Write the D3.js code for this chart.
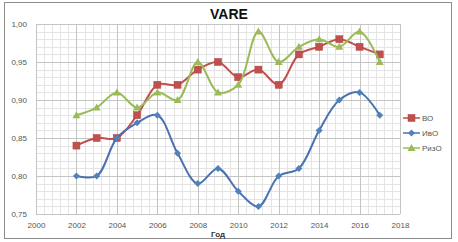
<!DOCTYPE html>
<html>
<head>
<meta charset="UTF-8">
<script src="https://d3js.org/d3.v7.min.js"></script>
<style>
  body { margin: 0; background: #fff; }
  text { font-family: "Liberation Sans", Arial, sans-serif; }
</style>
</head>
<body>
<div id="chart"></div>
<script>
const years = [2002, 2003, 2004, 2005, 2006, 2007, 2008, 2009, 2010, 2011, 2012, 2013, 2014, 2015, 2016, 2017];
const vo   = [0.84, 0.85, 0.85, 0.88, 0.92, 0.92, 0.94, 0.95, 0.93, 0.94, 0.92, 0.96, 0.97, 0.98, 0.97, 0.96];
const ivo  = [0.80, 0.80, 0.85, 0.87, 0.88, 0.83, 0.79, 0.81, 0.78, 0.76, 0.80, 0.81, 0.86, 0.90, 0.91, 0.88];
const rizo = [0.88, 0.89, 0.91, 0.89, 0.91, 0.90, 0.95, 0.91, 0.92, 0.99, 0.95, 0.97, 0.98, 0.97, 0.99, 0.95];
const xTicks = [2000, 2002, 2004, 2006, 2008, 2010, 2012, 2014, 2016, 2018];
const yTicks = [0.75, 0.80, 0.85, 0.90, 0.95, 1.00];

const series = [
  { name: "ВО",   values: vo,   color: "#c0504d", line: "#c0504d", marker: "square" },
  { name: "ИвО",  values: ivo,  color: "#4f81bd", line: "#4a72b0", marker: "diamond" },
  { name: "РизО", values: rizo, color: "#9bbb59", line: "#9bbb59", marker: "triangle" }
];

const W = 458, H = 242;
const svg = d3.select("#chart").append("svg").attr("width", W).attr("height", H);

svg.append("rect").attr("x", 4.5).attr("y", 2.5).attr("width", 447).attr("height", 236)
  .attr("fill", "#fff").attr("stroke", "#8c8c8c").attr("stroke-width", 1);

const x = d3.scaleLinear().domain([2000, 2018]).range([36, 400]);
const y = d3.scaleLinear().domain([0.75, 1.00]).range([214, 24]);

// grid, minor then major
const g = svg.append("g");
const minorX = d3.range(2000, 2018.001, 0.4);
const minorY = d3.range(0.75, 1.0001, 0.01);
g.selectAll(".mx").data(minorX).enter().append("line")
  .attr("x1", d => Math.round(x(d)) + 0.5).attr("x2", d => Math.round(x(d)) + 0.5)
  .attr("y1", y(1)).attr("y2", y(0.75))
  .attr("stroke", "#e4e4e4").attr("stroke-width", 1);
g.selectAll(".my").data(minorY).enter().append("line")
  .attr("y1", d => Math.round(y(d)) + 0.5).attr("y2", d => Math.round(y(d)) + 0.5)
  .attr("x1", x(2000)).attr("x2", x(2018))
  .attr("stroke", "#e4e4e4").attr("stroke-width", 1);
g.selectAll(".Mx").data(xTicks).enter().append("line")
  .attr("x1", d => Math.round(x(d)) + 0.5).attr("x2", d => Math.round(x(d)) + 0.5)
  .attr("y1", y(1)).attr("y2", y(0.75))
  .attr("stroke", "#c4c4c4").attr("stroke-width", 1);
g.selectAll(".My").data(yTicks).enter().append("line")
  .attr("y1", d => Math.round(y(d)) + 0.5).attr("y2", d => Math.round(y(d)) + 0.5)
  .attr("x1", x(2000)).attr("x2", x(2018))
  .attr("stroke", "#c4c4c4").attr("stroke-width", 1);

// axes labels
const xAxis = d3.axisBottom(x).tickValues(xTicks).tickFormat(d3.format("d")).tickSize(0).tickPadding(8);
const gx = svg.append("g").attr("transform", `translate(0,${y(0.75)})`).call(xAxis);
gx.select(".domain").remove();
gx.selectAll("text").attr("font-size", 8).attr("fill", "#555").attr("font-family", "Liberation Sans, Arial, sans-serif");

const yAxis = d3.axisLeft(y).tickValues(yTicks).tickFormat(d => d3.format(".2f")(d).replace(".", ",")).tickSize(0).tickPadding(9);
const gy = svg.append("g").attr("transform", `translate(${x(2000)},0)`).call(yAxis);
gy.select(".domain").remove();
gy.selectAll("text").attr("font-size", 8).attr("fill", "#555").attr("font-family", "Liberation Sans, Arial, sans-serif");

// title and axis title
svg.append("text").attr("x", 229).attr("y", 19).attr("text-anchor", "middle")
  .attr("font-size", 14).attr("font-weight", "bold").attr("fill", "#111").text("VARE");
svg.append("text").attr("x", 218).attr("y", 237).attr("text-anchor", "middle")
  .attr("font-size", 8).attr("font-weight", "bold").attr("fill", "#333").text("Год");

// lines
const line = d3.line().x((d, i) => x(years[i])).y(d => y(d)).curve(d3.curveCatmullRom.alpha(0.5));

function marker(sel, type, color, cx, cy) {
  if (type === "square") {
    sel.append("rect").attr("x", cx - 3.5).attr("y", cy - 3.5).attr("width", 7).attr("height", 7)
      .attr("fill", color).attr("stroke", "#b04040").attr("stroke-width", 0.5);
  } else if (type === "diamond") {
    sel.append("path").attr("d", `M${cx},${cy - 3.5}L${cx + 3.5},${cy}L${cx},${cy + 3.5}L${cx - 3.5},${cy}Z`)
      .attr("fill", color);
  } else {
    sel.append("path").attr("d", `M${cx},${cy - 4}L${cx + 4},${cy + 3}L${cx - 4},${cy + 3}Z`)
      .attr("fill", color);
  }
}

series.forEach(s => {
  svg.append("path").datum(s.values).attr("d", line)
    .attr("fill", "none").attr("stroke", s.line).attr("stroke-width", 2);
  const mg = svg.append("g");
  s.values.forEach((v, i) => marker(mg, s.marker, s.color, x(years[i]), y(v)));
});

// legend
const lg = svg.append("g");
series.forEach((s, i) => {
  const ly = 118 + i * 15;
  lg.append("line").attr("x1", 403).attr("x2", 420).attr("y1", ly).attr("y2", ly)
    .attr("stroke", s.line).attr("stroke-width", 1.5);
  marker(lg, s.marker, s.color, 411.5, ly);
  lg.append("text").attr("x", 422).attr("y", ly + 3).attr("font-size", 8).attr("fill", "#555").text(s.name);
});
</script>
</body>
</html>
